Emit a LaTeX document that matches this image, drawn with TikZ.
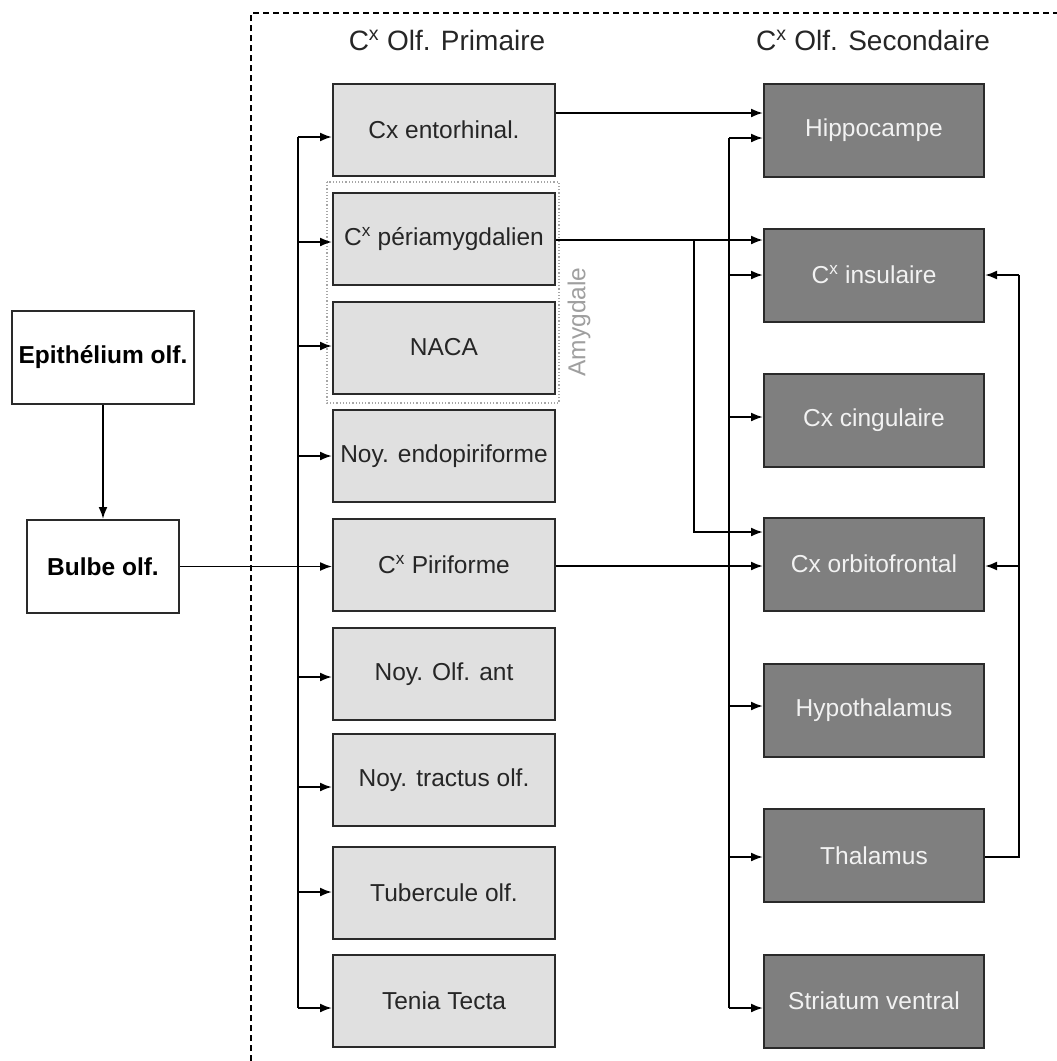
\documentclass[tikz,border=0pt]{standalone}
\usepackage{fontspec}
\setmainfont{Liberation Sans}
\usetikzlibrary{arrows.meta,calc}
\definecolor{primfill}{HTML}{E0E0E0}
\definecolor{secfill}{HTML}{7F7F7F}
\definecolor{edgecol}{HTML}{2A2A2A}
\begin{document}
\begin{tikzpicture}[x=1pt,y=-1pt,
  base/.style={draw=edgecol,line width=2pt,inner sep=0pt,font=\fontsize{24.5}{28}\selectfont},
  prim/.style={base,fill=primfill,text=black!85,minimum width=222pt,minimum height=92pt},
  sec/.style={base,fill=secfill,text=white!95!black,minimum width=220pt,minimum height=93pt},
  leftbox/.style={base,fill=white,text=black,font=\fontsize{24.5}{28}\selectfont\bfseries,minimum height=93pt},
  heading/.style={font=\fontsize{28}{32}\selectfont,text=black!85},
  conn/.style={line width=2pt,draw=black},
  arr/.style={conn,-{Latex[length=12pt,width=9pt]}}
]
\useasboundingbox (0,0) rectangle (1057,1061);
% dashed frame
\draw[line width=1.5pt,dash pattern=on 6pt off 4pt] (251,1061) -- (251,13) -- (1057,13);
% headings
\node[heading] (h1) at (447,40) {C\textsuperscript{x} Olf. Primaire};
\node[heading] (h2) at (873,40) {C\textsuperscript{x} Olf. Secondaire};
% amygdale group
\draw[gray!70,line width=1.2pt,dotted] (327,182) rectangle (559,403);
\node[rotate=90,text=gray!75,font=\fontsize{24.5}{28}\selectfont] (amy) at (579,322) {Amygdale};
% left boxes
\node[leftbox,minimum width=182pt] (epi) at (103,357.5) {Epithélium olf.};
\node[leftbox,minimum width=152pt] (bul) at (103,566.5) {Bulbe olf.};
% primary boxes
\node[prim] (ent) at (444,130) {Cx entorhinal.};
\node[prim] (peri) at (444,239) {C\textsuperscript{x} périamygdalien};
\node[prim] (naca) at (444,347.5) {NACA};
\node[prim] (endo) at (444,456) {Noy. endopiriforme};
\node[prim] (pir) at (444,565) {C\textsuperscript{x} Piriforme};
\node[prim] (ant) at (444,674) {Noy. Olf. ant};
\node[prim] (tra) at (444,780) {Noy. tractus olf.};
\node[prim] (tub) at (444,892.5) {Tubercule olf.};
\node[prim] (ten) at (444,1001) {Tenia Tecta};
% secondary boxes
\node[sec] (hip) at (874,130) {Hippocampe};
\node[sec] (ins) at (874,275) {C\textsuperscript{x} insulaire};
\node[sec] (cin) at (874,420) {Cx cingulaire};
\node[sec] (orb) at (874,564) {Cx orbitofrontal};
\node[sec] (hyp) at (874,710.5) {Hypothalamus};
\node[sec] (tha) at (874,855.5) {Thalamus};
\node[sec] (str) at (874,1001) {Striatum ventral};
% epithelium -> bulbe
\draw[arr] (epi.south) -- (epi.south |- bul.north);
% bulbe -> piriforme
\draw[arr,line width=1.6pt] (bul.east) -- (pir.west |- bul.east);
% primary bus
\coordinate (pt) at (298,137);
\coordinate (pb) at (298,1008);
\draw[conn] (pt) -- (pb);
\draw[arr] (pt) -- (ent.west |- pt);
\draw[arr] (pt |- 0,242) -- (peri.west |- 0,242);
\draw[arr] (pt |- 0,346) -- (naca.west |- 0,346);
\draw[arr] (pt |- 0,456) -- (endo.west |- 0,456);
\draw[arr] (pt |- 0,677) -- (ant.west |- 0,677);
\draw[arr] (pt |- 0,787) -- (tra.west |- 0,787);
\draw[arr] (pt |- 0,892) -- (tub.west |- 0,892);
\draw[arr] (pb) -- (ten.west |- pb);
% secondary bus
\coordinate (st) at (729,138);
\coordinate (sb) at (729,1008);
\draw[conn] (st) -- (sb);
\draw[arr] (st) -- (hip.west |- st);
\draw[arr] (st |- 0,275) -- (ins.west |- 0,275);
\draw[arr] (st |- 0,417) -- (cin.west |- 0,417);
\draw[arr] (st |- 0,706) -- (hyp.west |- 0,706);
\draw[arr] (st |- 0,857) -- (tha.west |- 0,857);
\draw[arr] (sb) -- (str.west |- sb);
% primary -> secondary
\draw[arr] (ent.east |- 0,113) -- (hip.west |- 0,113);
\draw[arr] (peri.east |- 0,240) -- (ins.west |- 0,240);
\coordinate (br) at (694,240);
\draw[arr] (br) -- (694,532) -- (orb.west |- 0,532);
\draw[arr] (pir.east |- 0,566) -- (orb.west |- 0,566);
% thalamus feedback
\coordinate (fb) at (1019,857);
\draw[conn] (tha.east |- fb) -- (fb) -- (1019,275);
\draw[arr] (1019,275) -- (ins.east |- 0,275);
\draw[arr] (1019,566) -- (orb.east |- 0,566);
\end{tikzpicture}
\end{document}
